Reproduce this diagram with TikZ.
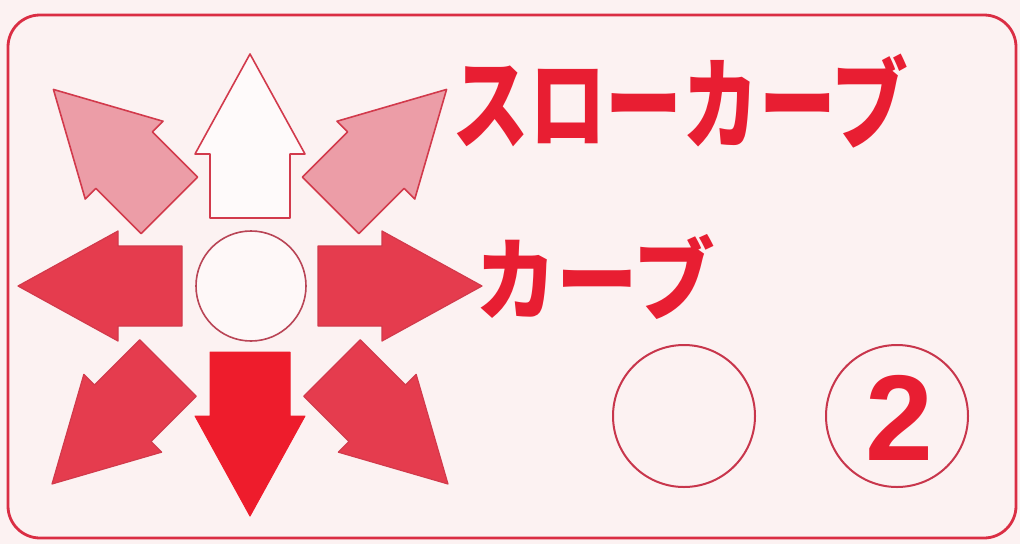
\documentclass[tikz,border=0pt]{standalone}
\usepackage{fontspec}
\newfontfamily\jpfont{Noto Sans CJK JP}
\setsansfont{Liberation Sans}
\definecolor{bg}{HTML}{FCF2F2}
\definecolor{framecol}{HTML}{DA2E44}
\definecolor{stip}{HTML}{E53C4E}
\definecolor{pinkfill}{HTML}{EC9DA7}
\definecolor{solidred}{HTML}{EE1C2C}
\definecolor{outl}{HTML}{D23A4C}
\definecolor{txtred}{HTML}{E81E32}
\definecolor{ringcol}{HTML}{C8364C}
\tikzset{
  frame/.style={draw=framecol, line width=2.8pt},
  redarrow/.style={fill=stip, draw=outl, line width=1.2pt, line join=round},
  pinkarrow/.style={fill=pinkfill, draw=outl, line width=1.6pt, line join=round},
  whitearrow/.style={fill=white!60!bg, draw=outl, line width=1.6pt, line join=round},
  solidarrow/.style={fill=solidred, draw=solidred, line width=1pt, line join=round},
  ring/.style={circle, draw=ringcol, line width=2pt, minimum size=142pt, inner sep=0pt},
  bigtext/.style={text=txtred, inner sep=0pt, anchor=base west, font=\jpfont\bfseries\fontsize{80}{80}\selectfont}
}
\newcommand{\bigarrowat}[3]{%
  \begin{scope}[shift={(250,286)}, rotate=#1]
    \path[#3] (#2,-40) -- ({#2+64},-40) -- ({#2+64},-55) -- ({#2+164},0) -- ({#2+64},55) -- ({#2+64},40) -- (#2,40) -- cycle;
  \end{scope}}
\begin{document}
\begin{tikzpicture}[x=1pt,y=-1pt]
\useasboundingbox (0,0) rectangle (1020,544);
\fill[bg] (0,0) rectangle (1020,544);
\draw[frame, rounded corners=32pt] (8,15) rectangle (1016,538);
% arrows
\bigarrowat{90}{68}{whitearrow}
\bigarrowat{135}{114}{pinkarrow}
\bigarrowat{45}{114}{pinkarrow}
\bigarrowat{180}{68}{redarrow}
\bigarrowat{0}{68}{redarrow}
\bigarrowat{225}{116}{redarrow}
\bigarrowat{315}{116}{redarrow}
\bigarrowat{270}{66}{solidarrow}
% centre circle
\node[circle, draw=ringcol!80!gray, line width=1.6pt, minimum size=110pt, inner sep=0pt, fill=white!50!bg] (ctr) at (251,286) {};
% texts
\node[bigtext] (slow) at (452,141) {\scalebox{0.96}[1.25]{スローカーブ}};
\node[bigtext] (curve) at (475,313) {\scalebox{1.02}[1.13]{カーブ}};
% circles
\node[ring] (c1) at (684,416) {};
\node[ring] (c2) at (897,416) {};
\node[text=txtred, inner sep=0pt, font=\sffamily\bfseries\fontsize{122}{122}\selectfont] (two) at (899,418) {2};
\end{tikzpicture}
\end{document}
